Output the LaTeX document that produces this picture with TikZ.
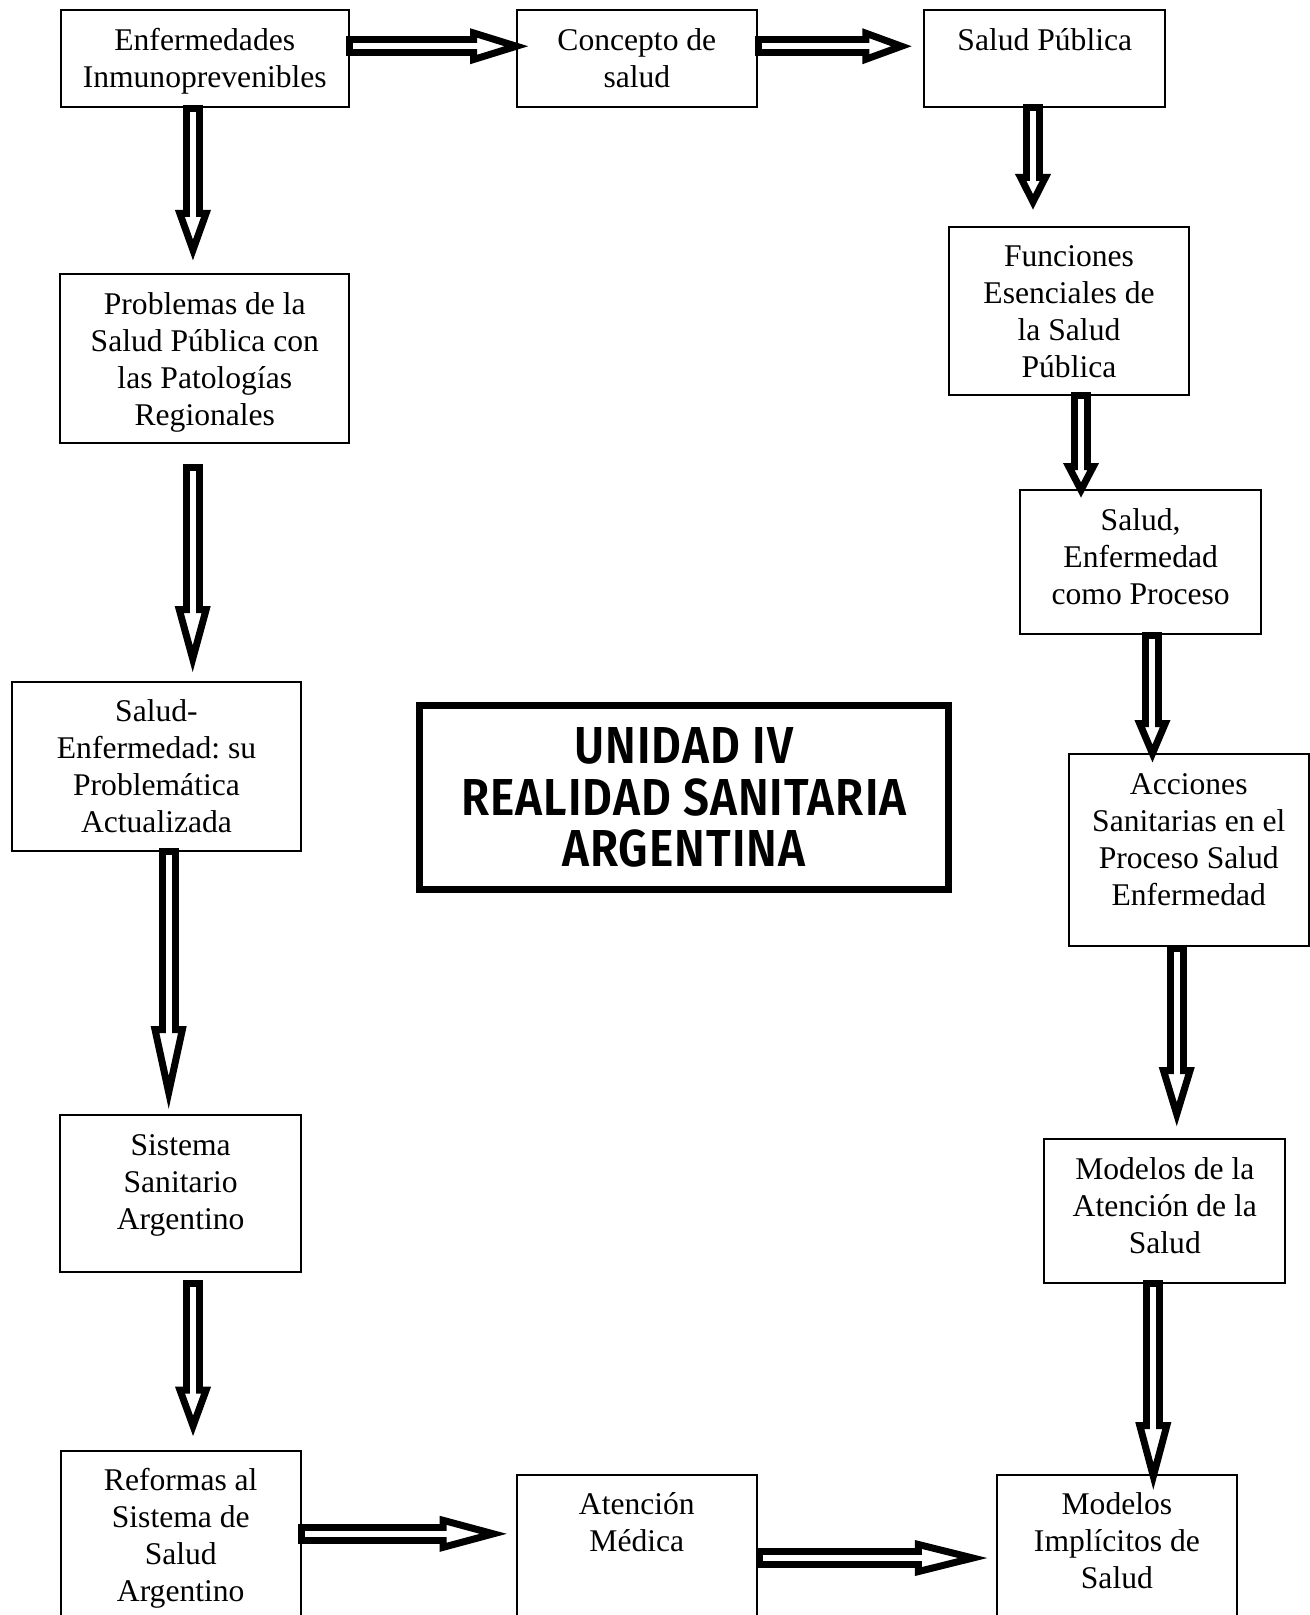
\documentclass[tikz,border=0pt]{standalone}
\usepackage{fontspec}
\setmainfont{Liberation Serif}
\newfontfamily\titlefont{Fira Sans}[BoldFont={Fira Sans SemiBold}, FakeStretch=0.885, LetterSpace=2]
\usetikzlibrary{arrows.meta}
\frenchspacing

\tikzset{
 box/.style n args={2}{draw, line width=1pt, inner sep=0pt, anchor=north west, align=flush center,
   text width=#1, text height=20pt, text depth=#2, font=\fontsize{15.8pt}{18.5pt}\selectfont},
 titlebox/.style={draw, line width=3.5pt, inner sep=0pt, minimum width=264.4pt, minimum height=92.3pt,
   align=center, font=\titlefont\bfseries\fontsize{26pt}{25.7pt}\selectfont},
 fatarrow/.style={draw=black, line width=10pt, -{Triangle[open, length=#1, width=17pt, line width=3.5pt]},
   postaction={draw=white, line width=3pt, -, shorten <=3.5pt, shorten >=#1-5pt}}
}

\begin{document}
\begin{tikzpicture}[x=0.5pt, y=-0.5pt]
 \path[use as bounding box] (0,0) rectangle (1310,1615);
 \clip (0,0) rectangle (1310,1615);

 %Boxes
 \node[box={144.25pt}{28.25pt}] (enfermedades) at (59.5,9.5) {Enfermedades\\Inmunoprevenibles};
 \node[box={120.15pt}{28.25pt}] (concepto) at (515.7,9.5) {Concepto de\\salud};
 \node[box={120.5pt}{28.25pt}] (saludPublica) at (923.3,9.5) {Salud Pública};
 \node[box={144.5pt}{64.2pt}] (problemas) at (59.3,273.3) {Problemas de la\\Salud Pública con\\las Patologías\\Regionales};
 \node[box={120.3pt}{64pt}] (funciones) at (947.7,225.7) {Funciones\\Esenciales de\\la Salud\\Pública};
 \node[box={120.35pt}{52pt}] (proceso) at (1019.3,489.3) {Salud,\\Enfermedad\\como Proceso};
 \node[box={144.2pt}{64.75pt}] (problematica) at (11.3,680.5) {Salud-\\Enfermedad: su\\Problemática\\Actualizada};
 \node[box={120.25pt}{76pt}] (acciones) at (1067.5,753) {Acciones\\Sanitarias en el\\Proceso Salud\\Enfermedad};
 \node[box={120.35pt}{58.35pt}] (sistema) at (59.3,1114) {Sistema\\Sanitario\\Argentino};
 \node[box={120.5pt}{52pt}] (modelosAtencion) at (1043.3,1138) {Modelos de la\\Atención de la\\Salud};
 \node[box={119.75pt}{80pt}] (reformas) at (60,1449.5) {Reformas al\\Sistema de\\Salud\\Argentino};
 \node[box={120.15pt}{80pt}] (atencion) at (515.7,1473.5) {Atención\\Médica};
 \node[box={120.1pt}{80pt}] (modelosImplicitos) at (995.8,1473.5) {Modelos\\Implícitos de\\Salud};

 %Title
 \node[titlebox] (title) at (683.9,797.5) {UNIDAD IV\\REALIDAD SANITARIA\\ARGENTINA};

 %Coordinates
 \coordinate (conceptoStart) at ([xshift=-2pt,yshift=6.25pt]enfermedades.east);
 \coordinate (saludStart) at ([xshift=-1.65pt,yshift=6.25pt]concepto.east);
 \coordinate (problemasStart) at ([xshift=-5.9pt,yshift=1.65pt]enfermedades.south);
 \coordinate (funcionesStart) at ([xshift=-5.9pt,yshift=1.85pt]saludPublica.south);
 \coordinate (problematicaStart) at ([xshift=-6.05pt,yshift=-10.15pt]problemas.south);
 \coordinate (procesoStart) at ([xshift=6pt,yshift=1.85pt]funciones.south);
 \coordinate (accionesStart) at ([xshift=5.9pt,yshift=1.65pt]proceso.south);
 \coordinate (sistemaStart) at ([xshift=6.1pt,yshift=2.15pt]problematica.south);
 \coordinate (modelosStart) at ([xshift=-6pt,yshift=1.25pt]acciones.south);
 \coordinate (reformasStart) at ([xshift=6.2pt,yshift=-3.8pt]sistema.south);
 \coordinate (implicitosStart) at ([xshift=-5.75pt,yshift=2pt]modelosAtencion.south);
 \coordinate (atencionStart) at ([xshift=-1.75pt,yshift=-42.15pt]reformas.north east);
 \coordinate (implicitosSide) at ([xshift=-0.8pt,yshift=-42.25pt]atencion.north east);

 %Arrows
 \draw[fatarrow=29.5pt] (conceptoStart) -- ([xshift=6.65pt]conceptoStart -| concepto.west);
 \draw[fatarrow=25pt] (saludStart) -- ([xshift=-5.5pt]saludStart -| saludPublica.west);
 \draw[fatarrow=25.5pt] (problemasStart) -- ([yshift=6.15pt]problemasStart |- problemas.north);
 \draw[fatarrow=18pt] (funcionesStart) -- ([yshift=7.85pt]funcionesStart |- funciones.north);
 \draw[fatarrow=33.5pt] (problematicaStart) -- ([yshift=3.75pt]problematicaStart |- problematica.north);
 \draw[fatarrow=17.5pt] (procesoStart) -- ([yshift=-4.35pt]procesoStart |- proceso.north);
 \draw[fatarrow=21.5pt] (accionesStart) -- ([yshift=-5pt]accionesStart |- acciones.north);
 \draw[fatarrow=42pt] (sistemaStart) -- ([yshift=2pt]sistemaStart |- sistema.north);
 \draw[fatarrow=30pt] (modelosStart) -- ([yshift=5.5pt]modelosStart |- modelosAtencion.north);
 \draw[fatarrow=25pt] (reformasStart) -- ([yshift=6.4pt]reformasStart |- reformas.north);
 \draw[fatarrow=34.25pt] (implicitosStart) -- ([yshift=-8.6pt]implicitosStart |- modelosImplicitos.north);
 \draw[fatarrow=34pt] (atencionStart) -- ([xshift=-4pt]atencionStart -| atencion.west);
 \draw[fatarrow=36.75pt] (implicitosSide) -- ([xshift=-3.75pt]implicitosSide -| modelosImplicitos.west);

\end{tikzpicture}
\end{document}
